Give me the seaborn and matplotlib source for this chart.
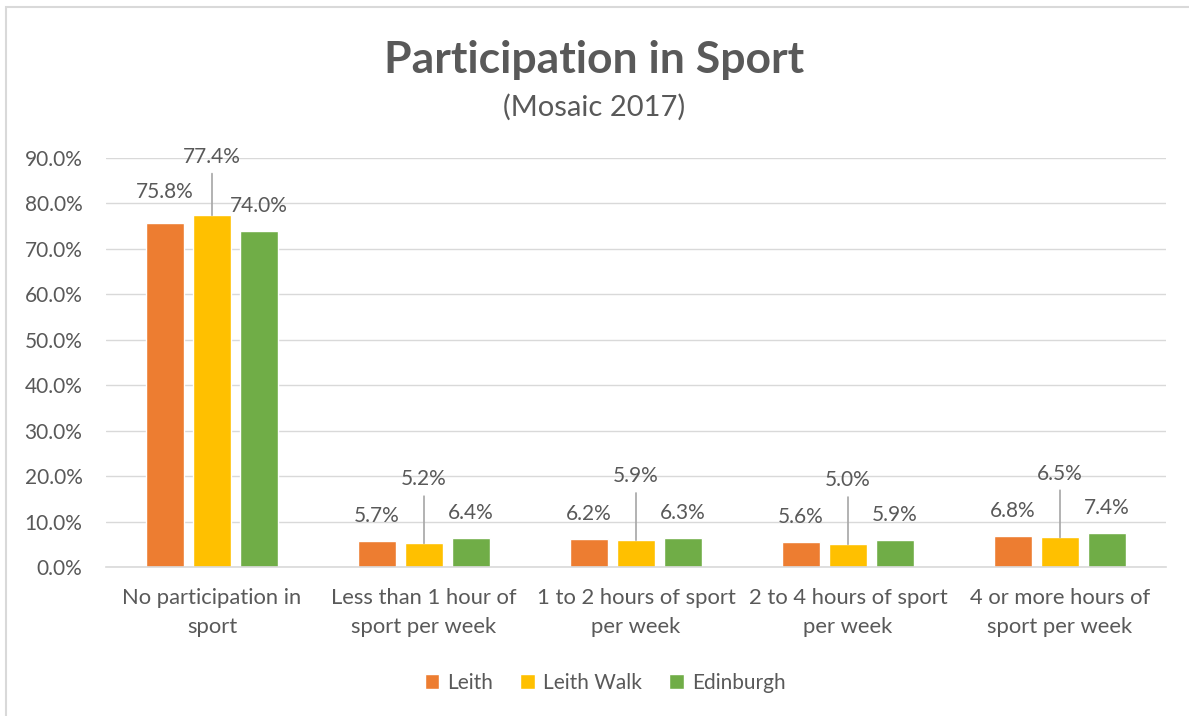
import matplotlib
matplotlib.use("Agg")
import matplotlib.pyplot as plt
import pandas as pd
import seaborn as sns
from matplotlib.patches import Rectangle

categories = [
    "No participation in\nsport",
    "Less than 1 hour of\nsport per week",
    "1 to 2 hours of sport\nper week",
    "2 to 4 hours of sport\nper week",
    "4 or more hours of\nsport per week",
]
areas = ["Leith", "Leith Walk", "Edinburgh"]
leith = [75.8, 5.7, 6.2, 5.6, 6.8]
leith_walk = [77.4, 5.2, 5.9, 5.0, 6.5]
edinburgh = [74.0, 6.4, 6.3, 5.9, 7.4]
colors = ["#ED7D31", "#FFC000", "#70AD47"]
text_col = "#595959"

rows = []
for area, vals in zip(areas, [leith, leith_walk, edinburgh]):
    for cat, v in zip(categories, vals):
        rows.append({"category": cat, "area": area, "value": v})
df = pd.DataFrame(rows)

sns.set_style("white")
plt.rcParams["font.family"] = ["Lato", "DejaVu Sans"]

fig = plt.figure(figsize=(11.89, 7.16), dpi=100)
ax = fig.add_axes([106 / 1189, 1 - 567 / 716, 1060 / 1189, 409 / 716])

sns.barplot(data=df, x="category", y="value", hue="area", palette=colors,
            width=0.666, gap=0.21, ax=ax, legend=True, saturation=1)

ax.set_ylim(0, 90)
ax.set_xlim(-0.5, 4.5)
ax.set_yticks(range(0, 91, 10))
ax.set_yticklabels([f"{t:.1f}%" for t in range(0, 91, 10)])
ax.yaxis.grid(True, color="#D9D9D9", lw=1)
ax.set_axisbelow(True)
for s in ["top", "right", "left"]:
    ax.spines[s].set_visible(False)
ax.spines["bottom"].set_color("#D9D9D9")
ax.spines["bottom"].set_linewidth(1.2)
ax.tick_params(axis="both", length=0, labelsize=15, colors=text_col)
ax.tick_params(axis="y", pad=17)
ax.tick_params(axis="x", pad=15)
for lbl in ax.get_xticklabels():
    lbl.set_linespacing(1.55)
    lbl.set_fontsize(15.8)
ax.set_xlabel("")
ax.set_ylabel("")

# data labels, Leith Walk labels lifted with a leader line
for i, container in enumerate(ax.containers):
    for bar in container:
        h = bar.get_height()
        x = bar.get_x() + bar.get_width() / 2
        if i == 1:
            off = 42 if h > 20 else 46
            ax.annotate(f"{h:.1f}%", (x, h), xytext=(0, off), textcoords="offset points",
                        ha="center", va="center", fontsize=15, color=text_col)
            ax.annotate("", xy=(x, h), xytext=(0, off - 12), textcoords="offset points",
                        arrowprops=dict(arrowstyle="-", color="#A6A6A6", lw=1.2,
                                        shrinkA=0, shrinkB=0))
        else:
            off = 22 if (i == 0 and h > 20) else 18
            ax.annotate(f"{h:.1f}%", (x, h), xytext=(0, off), textcoords="offset points",
                        ha="center", va="center", fontsize=15, color=text_col)

leg = ax.legend(loc="center", bbox_to_anchor=(0.471, -0.283), ncol=3, frameon=False,
                fontsize=15, handlelength=0.7, handleheight=0.7, handletextpad=0.4,
                columnspacing=1.3)
for t in leg.get_texts():
    t.set_color(text_col)

fig.text(0.5, 1 - 60 / 716, "Participation in Sport", ha="center", va="center",
         fontsize=32, fontweight="bold", color=text_col)
fig.text(0.5, 1 - 107 / 716, "(Mosaic 2017)", ha="center", va="center",
         fontsize=21, color=text_col)

fig.patches.append(Rectangle((6 / 1189, -0.1), 1.2, 1.1 - 7 / 716, transform=fig.transFigure,
                             fill=False, edgecolor="#D9D9D9", lw=1.5))

fig.savefig("out.png", dpi=100)
